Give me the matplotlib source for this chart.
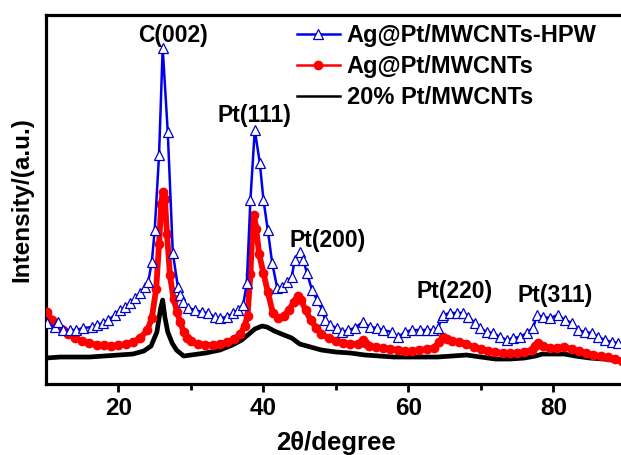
import matplotlib
matplotlib.use("Agg")
import matplotlib.pyplot as plt
from matplotlib.lines import Line2D

plt.rcParams['font.family'] = ['Liberation Sans', 'DejaVu Sans']
plt.rcParams['font.weight'] = 'bold'

# ── data (arbitrary intensity units) ───────────────────────────────────────
hpw_x = [10.1, 11.2, 11.7, 12.3, 13.3, 14.2, 15.1, 16.3, 17.0, 17.9, 18.6, 19.5,
         20.2, 20.9, 21.6, 22.3, 23.0, 23.7, 24.1, 24.6, 25.0, 25.6, 26.1, 26.8,
         27.5, 28.2, 28.5, 28.9, 29.6, 30.6, 31.5, 32.3, 33.3, 34.0, 35.0, 35.8,
         36.5, 37.2, 37.7, 38.2, 38.8, 39.5, 40.0, 40.6, 41.2, 41.9, 42.6, 43.2,
         43.9, 44.3, 45.0, 45.5, 46.0, 46.7, 47.4, 48.1, 48.5, 49.2, 50.1, 50.8,
         51.7, 52.6, 53.7, 54.7, 55.6, 56.5, 57.7, 58.6, 59.5, 60.5, 61.6, 62.5,
         63.4, 64.1, 64.6, 64.8, 65.7, 66.7, 67.5, 68.2, 69.2, 69.9, 70.8, 71.7,
         72.6, 73.6, 74.4, 75.4, 76.3, 77.2, 77.7, 78.6, 79.5, 80.6, 81.6, 82.6,
         83.4, 84.3, 85.3, 86.2, 87.1, 88.1, 88.9]
hpw_y = [61, 57, 62, 54, 54, 54, 56, 57, 59, 61, 64, 69,
         74, 77, 81, 86, 91, 97, 102, 122, 154, 229, 336, 252,
         131, 97, 89, 82, 76, 74, 72, 71, 67, 66, 67, 71,
         74, 79, 101, 184, 254, 221, 184, 154, 121, 96, 97, 102,
         107, 124, 132, 124, 111, 94, 84, 74, 64, 59, 56, 52,
         54, 56, 62, 57, 56, 54, 52, 47, 52, 54, 54, 54,
         54, 56, 67, 69, 71, 71, 71, 67, 61, 56, 52, 51,
         47, 44, 46, 47, 51, 56, 69, 67, 66, 69, 64, 61,
         54, 52, 51, 47, 44, 42, 41]

agpt_x = [10.2, 10.8, 11.5, 12.3, 13.0, 14.0, 15.0, 16.0, 17.0, 18.0, 19.0, 20.0,
          21.0, 22.0, 23.0, 24.0, 24.6, 25.2, 25.6, 25.9, 26.1, 26.4, 26.7, 27.1,
          27.6, 28.1, 28.5, 29.0, 29.5, 30.0, 31.0, 32.0, 33.0, 34.0, 35.0, 36.0,
          36.8, 37.4, 37.8, 38.2, 38.5, 38.7, 39.0, 39.4, 40.0, 40.6, 41.3, 42.0,
          42.8, 43.5, 44.2, 44.7, 45.2, 45.8, 46.5, 47.3, 48.0, 49.0, 50.0, 51.0,
          52.0, 53.0, 53.7, 54.0, 54.5, 55.5, 56.5, 57.5, 58.5, 59.5, 60.5, 61.5,
          62.5, 63.5, 64.2, 64.8, 65.3, 66.0, 67.0, 68.0, 69.0, 70.0, 71.0, 72.0,
          73.0, 74.0, 75.0, 76.0, 77.0, 77.4, 77.8, 78.5, 79.5, 80.5, 81.5, 82.5,
          83.5, 84.5, 85.5, 86.5, 87.5, 88.5, 89.5]
agpt_y = [72, 64, 58, 54, 50, 46, 43, 41, 39, 39, 38, 39,
          40, 42, 46, 54, 66, 95, 140, 180, 192, 185, 150, 109,
          85, 72, 62, 52, 46, 43, 40, 39, 39, 40, 42, 45,
          50, 58, 68, 110, 160, 169, 155, 130, 111, 92, 71, 66,
          68, 74, 82, 88, 84, 74, 64, 56, 50, 46, 43, 41,
          40, 40, 44, 41, 38, 37, 36, 35, 34, 33, 33, 34,
          35, 36, 42, 47, 45, 43, 42, 40, 37, 35, 33, 32,
          31, 31, 31, 32, 34, 38, 41, 38, 36, 36, 37, 35,
          33, 31, 29, 28, 27, 25, 23]

pt_x = [10, 12, 14, 16, 18, 20, 22, 23.5, 24.5, 25.3, 25.8, 26.1,
        26.4, 26.8, 27.4, 28.0, 29.0, 30, 32, 34, 35.7, 37, 38, 38.8,
        39.8, 40.5, 41.5, 42.5, 43.9, 45, 46.5, 48, 50, 52, 54, 56,
        58, 60, 62, 64, 66, 68, 70, 72, 74, 76, 77.5, 78.5, 80, 81.5,
        83, 85, 87, 89]
pt_y = [26, 27, 27, 27, 28, 29, 30, 33, 38, 52, 75, 84,
        67, 52, 41, 34, 28, 29, 31, 34, 39, 44, 50, 55,
        58, 57, 53, 50, 46, 40, 37, 34, 32, 31, 29, 28,
        27, 27, 27, 27, 28, 29, 27, 25, 25, 26, 28, 30, 30, 30,
        28, 26, 25, 23]

peak_labels = ["C(002)", "Pt(111)", "Pt(200)", "Pt(220)", "Pt(311)"]
peak_x = [27.5, 38.8, 48.9, 66.4, 80.2]
peak_y = [349, 269, 144, 93, 89]

series_names = ["Ag@Pt/MWCNTs-HPW", "Ag@Pt/MWCNTs", "20% Pt/MWCNTs"]

# ── figure ──────────────────────────────────────────────────────────────────
fig = plt.figure(figsize=(6.21, 4.55), dpi=100)
ax = fig.add_axes([0.074, 0.156, 0.934, 0.811])

ax.plot(pt_x, pt_y, color='black', lw=3.4, zorder=2)
ax.plot(agpt_x, agpt_y, color='red', lw=4.2, marker='o', ms=6,
        mfc='red', mec='red', zorder=3)
ax.plot(hpw_x, hpw_y, color='#0000ee', lw=1.8, marker='^', ms=7.5,
        mfc='white', mec='#0000cc', mew=0.9, zorder=4)

for lab, px, py in zip(peak_labels, peak_x, peak_y):
    ax.text(px, py, lab, ha='center', va='center', fontsize=16.5,
            fontweight='bold', zorder=6)

ax.set_xlim(10, 90)
ax.set_ylim(0, 369)
ax.set_xticks([20, 40, 60, 80])
ax.set_xticks([30, 50, 70, 90], minor=True)
ax.set_yticks([])
ax.tick_params(axis='x', which='major', direction='out', length=6, width=2,
               labelsize=17.5, pad=3)
ax.tick_params(axis='x', which='minor', direction='out', length=4, width=2)
for lbl in ax.get_xticklabels():
    lbl.set_fontweight('bold')
for sp in ax.spines.values():
    sp.set_linewidth(2.3)

ax.set_xlabel("2θ/degree", fontsize=18.5, fontweight='bold', labelpad=8)
ax.set_ylabel("Intensity/(a.u.)", fontsize=17.5, fontweight='bold', labelpad=9)

# thin legend handles, as in the original figure
h_hpw = Line2D([], [], color='#0000ee', lw=1.8, marker='^', ms=7.5,
               mfc='white', mec='#0000cc', mew=0.9)
h_ag = Line2D([], [], color='red', lw=1.8, marker='o', ms=6, mfc='red', mec='red')
h_pt = Line2D([], [], color='black', lw=1.8)
leg = ax.legend([h_hpw, h_ag, h_pt], series_names,
                loc='upper left', bbox_to_anchor=(0.433, 0.975), frameon=False,
                fontsize=17, handlelength=1.8, handletextpad=0.3,
                labelspacing=0.33, borderpad=0, borderaxespad=0)
for t in leg.get_texts():
    t.set_fontweight('bold')

fig.savefig("out.png", dpi=100)
